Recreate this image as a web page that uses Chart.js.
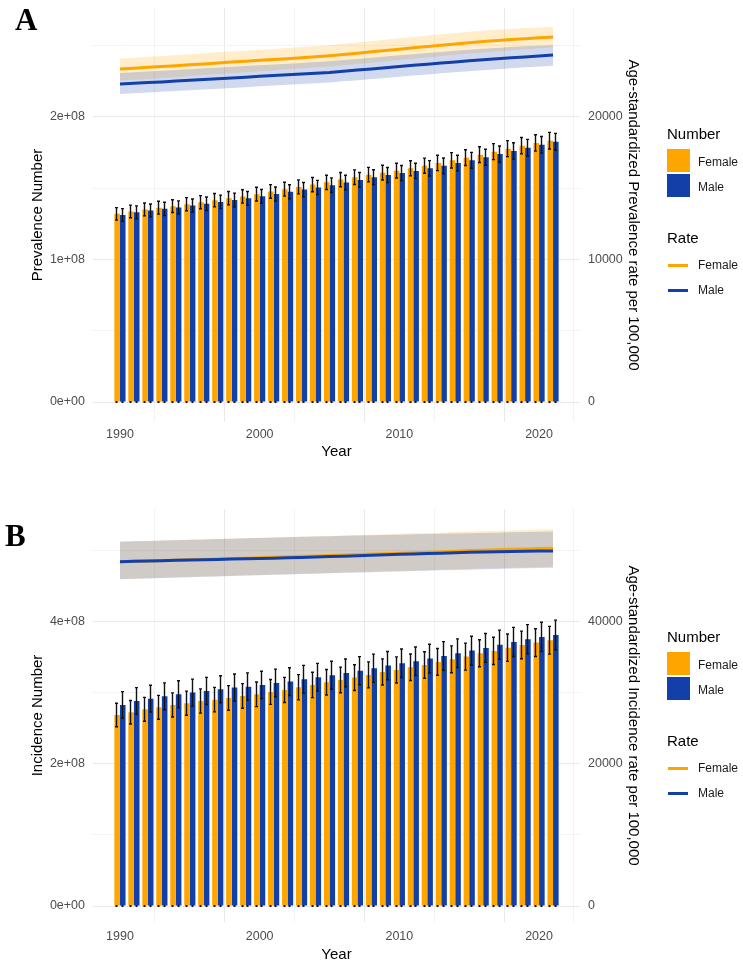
<!DOCTYPE html>
<html>
<head>
<meta charset="utf-8">
<script src="https://cdn.jsdelivr.net/npm/chart.js@4.4.1/dist/chart.umd.min.js"></script>
<style>
  body { margin: 0; background: #fff; font-family: Arial, "Liberation Sans", sans-serif; }
  .panel { position: absolute; left: 0; width: 743px; height: 484px; }
  .letter { position: absolute; font: bold 31px "Times New Roman", "Liberation Serif", serif; line-height: 1; color: #000; }
  .lg-title { position: absolute; left: 667px; font-size: 15px; line-height: 18px; color: #000; }
  .lg-text { position: absolute; left: 698px; font-size: 12px; line-height: 14px; color: #1a1a1a; }
  .lg-box { position: absolute; left: 667px; width: 23px; height: 23px; }
  .lg-line { position: absolute; left: 668px; width: 20px; height: 3px; }
</style>
</head>
<body>
<div class="panel" id="panelA" style="top:0"><canvas id="chartA"></canvas></div>
<div class="panel" id="panelB" style="top:484px"><canvas id="chartB"></canvas></div>
<div class="letter" style="left:15px;top:4px">A</div>
<div class="letter" style="left:5px;top:520px">B</div>
<script>
// numbers are in millions, rates per 100,000
const years = [1990, 1991, 1992, 1993, 1994, 1995, 1996, 1997, 1998, 1999, 2000, 2001, 2002, 2003, 2004, 2005,
  2006, 2007, 2008, 2009, 2010, 2011, 2012, 2013, 2014, 2015, 2016, 2017, 2018, 2019, 2020, 2021];
const sexes = ['Female', 'Male'];
const xGridYears = [1990, 1995, 2000, 2005, 2010, 2015, 2020];

// A: prevalence
const prevFemale = [131.9, 133.6, 135.0, 136.2, 137.3, 138.7, 140.1, 141.5, 142.9, 144.1, 145.7, 147.6, 149.2, 150.8, 152.4, 154.0,
  155.9, 157.6, 159.4, 160.8, 162.2, 163.8, 165.7, 167.6, 169.4, 171.3, 173.4, 175.5, 177.6, 179.7, 181.6, 183.2];
const prevMale = [131.1, 133.0, 134.3, 135.4, 136.4, 137.7, 139.0, 140.3, 141.6, 142.8, 144.2, 145.8, 147.4, 148.9, 150.4, 152.0,
  153.9, 155.7, 157.6, 159.1, 160.5, 162.0, 163.8, 165.6, 167.5, 169.4, 171.6, 173.8, 176.0, 178.3, 180.3, 182.4];
const prevFemaleErr = [4.4, 4.4, 4.5, 4.5, 4.5, 4.6, 4.6, 4.7, 4.7, 4.7, 4.8, 4.8, 4.9, 4.9, 5.0, 5.0,
  5.0, 5.1, 5.1, 5.2, 5.2, 5.3, 5.3, 5.4, 5.4, 5.5, 5.5, 5.6, 5.6, 5.7, 5.7, 5.8];
const prevMaleErr = [4.5, 4.5, 4.5, 4.6, 4.6, 4.6, 4.7, 4.7, 4.8, 4.8, 4.8, 4.9, 4.9, 5.0, 5.0, 5.1,
  5.1, 5.2, 5.2, 5.3, 5.3, 5.4, 5.4, 5.5, 5.5, 5.6, 5.6, 5.7, 5.7, 5.8, 5.8, 5.9];
const prevRateFemale = [23340, 23400, 23460, 23520, 23580, 23640, 23700, 23770, 23830, 23890, 23950, 24010, 24070, 24140, 24200, 24270,
  24360, 24450, 24550, 24640, 24730, 24830, 24920, 25010, 25100, 25190, 25270, 25340, 25410, 25470, 25530, 25590];
const prevRateFemaleHi = [24080, 24140, 24200, 24260, 24320, 24380, 24440, 24510, 24570, 24630, 24690, 24750, 24810, 24880, 24940, 25010,
  25110, 25200, 25300, 25400, 25500, 25590, 25690, 25780, 25870, 25960, 26030, 26090, 26150, 26210, 26250, 26290];
const prevRateFemaleLo = [22520, 22590, 22650, 22720, 22790, 22850, 22920, 22990, 23050, 23120, 23190, 23250, 23320, 23390, 23450, 23520,
  23610, 23700, 23790, 23880, 23970, 24060, 24150, 24250, 24340, 24430, 24500, 24580, 24650, 24720, 24790, 24850];
const prevRateMale = [22290, 22340, 22390, 22440, 22500, 22550, 22600, 22660, 22710, 22770, 22830, 22880, 22940, 22990, 23050, 23100,
  23180, 23270, 23350, 23440, 23520, 23600, 23680, 23760, 23840, 23920, 23990, 24060, 24130, 24190, 24260, 24320];
const prevRateMaleHi = [23060, 23110, 23170, 23220, 23280, 23330, 23390, 23440, 23500, 23550, 23610, 23660, 23720, 23770, 23830, 23890,
  23970, 24050, 24140, 24220, 24300, 24380, 24460, 24540, 24620, 24700, 24760, 24820, 24880, 24940, 24980, 25010];
const prevRateMaleLo = [21590, 21640, 21700, 21750, 21800, 21860, 21910, 21960, 22020, 22070, 22130, 22180, 22240, 22290, 22350, 22400,
  22480, 22560, 22640, 22720, 22800, 22880, 22960, 23040, 23110, 23190, 23260, 23330, 23400, 23460, 23520, 23570];
const prevNumTicks = [0, 50, 100, 150, 200, 250];
const prevNumLabelled = [0, 100, 200];
const prevRateTicks = [0, 10000, 20000];

// B: incidence
const incFemale = [269.0, 272.8, 277.0, 279.8, 283.1, 285.5, 288.7, 290.6, 293.0, 295.8, 298.1, 301.4, 304.2, 308.0, 311.3, 315.1,
  318.3, 321.6, 325.4, 329.6, 332.4, 336.2, 339.4, 343.7, 347.4, 351.2, 355.9, 359.2, 363.8, 367.6, 370.9, 374.2];
const incMale = [283.1, 288.7, 292.0, 295.3, 298.1, 300.5, 302.8, 305.2, 307.5, 308.9, 311.3, 314.1, 316.0, 319.3, 322.1, 324.9,
  328.2, 331.4, 334.8, 338.5, 341.8, 344.6, 348.4, 352.1, 355.9, 359.6, 363.4, 368.0, 371.8, 375.6, 378.9, 381.7];
const incFemaleErr = [16.5, 16.6, 16.8, 16.8, 17.0, 17.0, 17.1, 17.2, 17.3, 17.4, 17.4, 17.5, 17.7, 17.8, 17.9, 18.0,
  18.0, 18.2, 18.3, 18.4, 18.4, 18.6, 18.7, 18.8, 18.9, 19.0, 19.1, 19.2, 19.3, 19.4, 19.5, 19.6];
const incMaleErr = [18.7, 18.8, 18.8, 18.9, 19.0, 19.0, 19.1, 19.1, 19.2, 19.3, 19.3, 19.4, 19.5, 19.5, 19.6, 19.7,
  19.7, 19.8, 19.9, 19.9, 20.0, 20.1, 20.1, 20.2, 20.3, 20.3, 20.4, 20.5, 20.5, 20.6, 20.7, 20.8];
const incRateFemale = [48490, 48540, 48590, 48640, 48700, 48750, 48800, 48860, 48920, 48980, 49040, 49100, 49170, 49230, 49300, 49370,
  49430, 49490, 49550, 49600, 49660, 49730, 49810, 49890, 49960, 50040, 50100, 50160, 50220, 50270, 50330, 50380];
const incRateFemaleHi = [51310, 51360, 51410, 51460, 51520, 51570, 51620, 51680, 51730, 51790, 51840, 51890, 51950, 52000, 52060, 52110,
  52170, 52230, 52290, 52350, 52410, 52470, 52530, 52590, 52650, 52710, 52770, 52830, 52890, 52940, 53000, 53060];
const incRateFemaleLo = [46030, 46090, 46150, 46200, 46260, 46320, 46380, 46440, 46490, 46550, 46610, 46670, 46730, 46780, 46840, 46900,
  46960, 47010, 47070, 47120, 47180, 47240, 47290, 47350, 47400, 47460, 47510, 47570, 47620, 47680, 47730, 47780];
const incRateMale = [48490, 48530, 48580, 48620, 48670, 48710, 48760, 48800, 48850, 48890, 48940, 48980, 49030, 49080, 49140, 49200,
  49260, 49320, 49390, 49450, 49520, 49570, 49630, 49680, 49740, 49800, 49840, 49870, 49910, 49940, 49970, 50000];
const incRateMaleHi = [51300, 51350, 51400, 51460, 51510, 51560, 51610, 51660, 51720, 51770, 51820, 51870, 51920, 51980, 52030, 52080,
  52120, 52160, 52200, 52240, 52290, 52330, 52370, 52410, 52450, 52490, 52530, 52570, 52610, 52650, 52690, 52720];
const incRateMaleLo = [46010, 46070, 46120, 46180, 46240, 46290, 46350, 46410, 46460, 46520, 46580, 46630, 46690, 46750, 46800, 46860,
  46910, 46960, 47010, 47060, 47110, 47160, 47210, 47260, 47310, 47360, 47410, 47460, 47510, 47560, 47600, 47630];
const incNumTicks = [0, 100, 200, 300, 400, 500];
const incNumLabelled = [0, 200, 400];
const incRateTicks = [0, 20000, 40000];

const ORANGE = '#FFA500';
const BLUE = '#1340A8';
Chart.defaults.font.family = 'Arial, "Liberation Sans", sans-serif';

const pts = arr => arr.map((v, i) => ({ x: years[i], y: v }));

// millions -> "2e+08"
function sci(v) {
  const [m, e] = (v * 1e6).toExponential(0).split('e');
  const n = parseInt(e, 10);
  return m + 'e' + (n < 0 ? '-' : '+') + String(Math.abs(n)).padStart(2, '0');
}

// no extra room for half tick labels, the chart area is placed by hand
function noPad(s) {
  s.paddingTop = 0; s.paddingBottom = 0; s.paddingLeft = 0; s.paddingRight = 0;
}

const errorBars = {
  id: 'errorBars',
  afterDatasetsDraw(chart) {
    const ctx = chart.ctx;
    const ys = chart.scales.y;
    ctx.save();
    ctx.strokeStyle = '#111';
    ctx.fillStyle = '#111';
    ctx.lineWidth = 1.4;
    chart.data.datasets.forEach((ds, i) => {
      if (!ds.err) return;
      chart.getDatasetMeta(i).data.forEach((bar, j) => {
        const v = ds.data[j].y, e = ds.err[j];
        const x = Math.round(bar.x) - 0.5;
        const t = ys.getPixelForValue(v + e), b = ys.getPixelForValue(v - e);
        ctx.beginPath();
        ctx.moveTo(x, t); ctx.lineTo(x, b);
        ctx.moveTo(x - 1.5, t); ctx.lineTo(x + 1.5, t);
        ctx.moveTo(x - 1.5, b); ctx.lineTo(x + 1.5, b);
        ctx.stroke();
        const z = ys.getPixelForValue(0);
        ctx.fillRect(x - 1, z - 1, 2, 2);
      });
    });
    ctx.restore();
  }
};

function band(data, color, fill, order) {
  return { type: 'line', data: pts(data), yAxisID: 'y2', borderColor: 'rgba(0,0,0,0)', borderWidth: 0,
    pointRadius: 0, fill: fill, backgroundColor: color, order: order };
}

function buildPanel(canvasId, p) {
  const gridColor = major => ctx => (ctx.tick && major(ctx.tick.value)) ? '#E9E9E9' : '#F3F3F3';
  return new Chart(document.getElementById(canvasId), {
    type: 'bar',
    data: {
      datasets: [
        { type: 'line', label: 'Male', data: pts(p.maleRate), yAxisID: 'y2', borderColor: BLUE, borderWidth: 3,
          pointRadius: 0, fill: false, order: 0 },
        { type: 'line', label: 'Female', data: pts(p.femaleRate), yAxisID: 'y2', borderColor: ORANGE, borderWidth: 3,
          pointRadius: 0, fill: false, order: 1 },
        band(p.maleHi, 'rgba(19,64,168,0.2)', '+1', 2),
        band(p.maleLo, 'rgba(0,0,0,0)', false, 2),
        band(p.femaleHi, 'rgba(255,165,0,0.2)', '+1', 3),
        band(p.femaleLo, 'rgba(0,0,0,0)', false, 3),
        { type: 'bar', label: sexes[0], data: pts(p.femaleNum), yAxisID: 'y', backgroundColor: ORANGE,
          err: p.femaleErr, order: 4 },
        { type: 'bar', label: sexes[1], data: pts(p.maleNum), yAxisID: 'y', backgroundColor: BLUE,
          err: p.maleErr, order: 4 }
      ]
    },
    options: {
      responsive: true,
      maintainAspectRatio: false,
      animation: false,
      events: [],
      layout: { padding: { top: p.topPad, left: 0, right: 0, bottom: 0 } },
      datasets: { bar: { barPercentage: 1, categoryPercentage: 0.8, borderWidth: 0 } },
      plugins: { legend: { display: false }, tooltip: { enabled: false } },
      scales: {
        x: {
          type: 'linear', min: 1988.07, max: 2022.93, offset: false,
          afterBuildTicks: s => { s.ticks = xGridYears.map(v => ({ value: v })); },
          afterFit: s => { s.height = p.xHeight; noPad(s); },
          ticks: { autoSkip: false, maxRotation: 0, color: '#4D4D4D', font: { size: 12.5 }, padding: p.xTickPad,
            callback: v => (v % 10 === 0 ? String(v) : '') },
          grid: { color: gridColor(v => v % 10 === 0), drawTicks: false },
          border: { display: false },
          title: { display: true, text: 'Year', color: '#000', font: { size: 15 }, padding: { top: 0, bottom: p.xTitlePad } }
        },
        y: {
          position: 'left', min: p.yMin, max: p.yMax,
          afterBuildTicks: s => { s.ticks = p.numTicks.map(v => ({ value: v })); },
          afterFit: s => { s.width = 93; noPad(s); },
          ticks: { color: '#4D4D4D', font: { size: 12.5 }, padding: 8,
            callback: v => (p.numLabelled.includes(v) ? sci(v) : '') },
          grid: { color: gridColor(v => p.numLabelled.includes(v)), drawTicks: false },
          border: { display: false },
          title: { display: true, text: p.leftTitle, color: '#000', font: { size: 15 }, padding: { top: 29, bottom: 0 } }
        },
        y2: {
          position: 'right', min: p.yMin * 100, max: p.yMax * 100,
          afterBuildTicks: s => { s.ticks = p.rateTicks.map(v => ({ value: v })); },
          afterFit: s => { s.width = 163; noPad(s); },
          ticks: { color: '#4D4D4D', font: { size: 12.5 }, padding: 8, callback: v => String(v) },
          grid: { display: false, drawTicks: false },
          border: { display: false },
          title: { display: true, text: p.rightTitle, color: '#000', font: { size: 15 }, padding: { top: 101, bottom: 0 } }
        }
      }
    },
    plugins: [errorBars]
  });
}

function makeLegend(panelId, top) {
  const panel = document.getElementById(panelId);
  const colors = [ORANGE, BLUE];
  const add = (cls, css, text) => {
    const d = document.createElement('div');
    d.className = cls;
    Object.assign(d.style, css);
    if (text) d.textContent = text;
    panel.appendChild(d);
  };
  add('lg-title', { top: (top - 9) + 'px' }, 'Number');
  sexes.forEach((s, i) => {
    add('lg-box', { top: (top + 15 + i * 25) + 'px', background: colors[i] });
    add('lg-text', { top: (top + 21 + i * 25) + 'px' }, s);
  });
  add('lg-title', { top: (top + 95) + 'px' }, 'Rate');
  sexes.forEach((s, i) => {
    add('lg-line', { top: (top + 130 + i * 25) + 'px', background: colors[i] });
    add('lg-text', { top: (top + 124 + i * 25) + 'px' }, s);
  });
}

buildPanel('chartA', {
  femaleNum: prevFemale, maleNum: prevMale, femaleErr: prevFemaleErr, maleErr: prevMaleErr,
  femaleRate: prevRateFemale, femaleHi: prevRateFemaleHi, femaleLo: prevRateFemaleLo,
  maleRate: prevRateMale, maleHi: prevRateMaleHi, maleLo: prevRateMaleLo,
  numTicks: prevNumTicks, numLabelled: prevNumLabelled, rateTicks: prevRateTicks,
  yMin: -14, yMax: 276.2, topPad: 8, xHeight: 62, xTickPad: 5, xTitlePad: 23,
  leftTitle: 'Prevalence Number', rightTitle: 'Age-standardized Prevalence rate per 100,000'
});

buildPanel('chartB', {
  femaleNum: incFemale, maleNum: incMale, femaleErr: incFemaleErr, maleErr: incMaleErr,
  femaleRate: incRateFemale, femaleHi: incRateFemaleHi, femaleLo: incRateFemaleLo,
  maleRate: incRateMale, maleHi: incRateMaleHi, maleLo: incRateMaleLo,
  numTicks: incNumTicks, numLabelled: incNumLabelled, rateTicks: incRateTicks,
  yMin: -22.5, yMax: 559, topPad: 25, xHeight: 46, xTickPad: 7, xTitlePad: 4,
  leftTitle: 'Incidence Number', rightTitle: 'Age-standardized Incidence rate per 100,000'
});

makeLegend('panelA', 134);
makeLegend('panelB', 153);
</script>
</body>
</html>
